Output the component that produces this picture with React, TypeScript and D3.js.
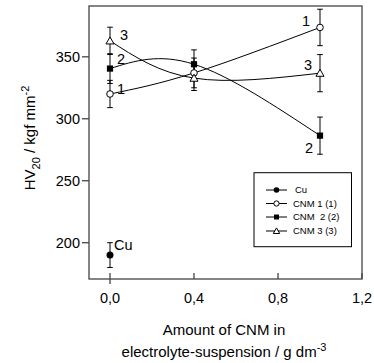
import React from "react";
import * as d3 from "d3";

// amount of CNM in suspension, g dm-3
const xValues = [0, 0.4, 1.0];
const cnm1 = [320, 337, 373.7];
const cnm1Err = [11, 12, 14.7];
const cnm2 = [340.5, 344, 286.4];
const cnm2Err = [12, 11.6, 15];
const cnm3 = [362.9, 332.8, 336.8];
const cnm3Err = [11, 10, 15];
const cuX = 0;
const cuValue = 190;
const cuErr = 10;

const xTicks = [0, 0.4, 0.8, 1.2];
const yTicks = [200, 250, 300, 350];
const legendLabels = ["Cu", "CNM 1 (1)", "CNM  2 (2)", "CNM 3 (3)"];

const W = 374;
const H = 363;
const left = 89;
const right = 362;
const top = 6;
const bottom = 279;

function Marker({ kind, x, y, s = 1 }: { kind: string; x: number; y: number; s?: number }) {
  if (kind === "dot") return <circle cx={x} cy={y} r={3.5 * s} fill="#000" />;
  if (kind === "circle")
    return <circle cx={x} cy={y} r={3.3 * s} fill="#fff" stroke="#000" strokeWidth={1} />;
  if (kind === "square")
    return <rect x={x - 3.1 * s} y={y - 3.1 * s} width={6.2 * s} height={6.2 * s} fill="#000" />;
  const tri = d3.symbol(d3.symbolTriangle, 28 * s * s)();
  return (
    <path d={tri || ""} transform={`translate(${x},${y + 0.8 * s})`} fill="#fff" stroke="#000" strokeWidth={1} />
  );
}

export default function App() {
  const x = d3.scaleLinear().domain([-0.1, 1.2]).range([left, right]);
  const y = d3.scaleLinear().domain([170.7, 391]).range([bottom, top]);

  const line = d3
    .line<[number, number]>()
    .x((d) => x(d[0]))
    .y((d) => y(d[1]))
    .curve(d3.curveNatural);

  const series = [
    { vals: cnm1, err: cnm1Err, kind: "circle", label: "1" },
    { vals: cnm2, err: cnm2Err, kind: "square", label: "2" },
    { vals: cnm3, err: cnm3Err, kind: "triangle", label: "3" },
  ];

  // label offsets (start, end) relative to the marker
  const startOff = [
    [7, 0],
    [7, -5],
    [10, -1],
  ];
  const endOff = [
    [-18, -1],
    [-15, 17],
    [-16, -3],
  ];

  const errBar = (cx: number, v: number, e: number, key: string) => (
    <g key={key} stroke="#000" strokeWidth={1}>
      <line x1={cx} x2={cx} y1={y(v - e)} y2={y(v + e)} />
      <line x1={cx - 2.8} x2={cx + 2.8} y1={y(v - e)} y2={y(v - e)} />
      <line x1={cx - 2.8} x2={cx + 2.8} y1={y(v + e)} y2={y(v + e)} />
    </g>
  );

  const legendKinds = ["dot", "circle", "square", "triangle"];
  const legendY = [190, 203.5, 217, 231];

  return (
    <svg
      width={W}
      height={H}
      style={{ position: "absolute", left: 0, top: 0, fontFamily: "Liberation Sans, Arial, sans-serif" }}
    >
      <rect width={W} height={H} fill="#fff" />
      {/* frame */}
      <rect x={left} y={top} width={right - left} height={bottom - top} fill="none" stroke="#444" strokeWidth={1.3} />

      {yTicks.map((t) => (
        <g key={t}>
          <line x1={left - 7} x2={left} y1={y(t)} y2={y(t)} stroke="#444" strokeWidth={1.3} />
          <text x={left - 9} y={y(t)} dy="0.35em" textAnchor="end" fontSize={14.5} fill="#000">
            {t}
          </text>
        </g>
      ))}
      {xTicks.map((t) => (
        <g key={t}>
          <line x1={x(t)} x2={x(t)} y1={bottom - 6} y2={bottom + (t === 0 ? 5 : 0)} stroke="#444" strokeWidth={1.3} />
          <text x={x(t)} y={bottom + 24} textAnchor="middle" fontSize={14.5} fill="#000">
            {d3.format(".1f")(t).replace(".", ",")}
          </text>
        </g>
      ))}

      {/* curves */}
      {series.map((s, i) => (
        <path
          key={"l" + i}
          d={line(xValues.map((xv, j) => [xv, s.vals[j]] as [number, number])) || ""}
          fill="none"
          stroke="#000"
          strokeWidth={1}
        />
      ))}

      {/* error bars */}
      {series.map((s, i) => s.vals.map((v, j) => errBar(x(xValues[j]), v, s.err[j], `e${i}${j}`)))}
      {errBar(x(cuX), cuValue, cuErr, "cu")}

      {/* markers */}
      {series.map((s, i) =>
        s.vals.map((v, j) => <Marker key={`m${i}${j}`} kind={s.kind} x={x(xValues[j])} y={y(v)} />)
      )}
      <Marker kind="dot" x={x(cuX)} y={y(cuValue)} />

      {/* series labels */}
      {series.map((s, i) => (
        <g key={"t" + i} fontSize={14.5} fill="#000">
          <text x={x(xValues[0]) + startOff[i][0]} y={y(s.vals[0]) + startOff[i][1]}>
            {s.label}
          </text>
          <text
            x={x(xValues[2]) + endOff[i][0]}
            y={y(s.vals[2]) + endOff[i][1]}
          >
            {s.label}
          </text>
        </g>
      ))}
      <text x={x(cuX) + 4} y={y(cuValue) - 5} fontSize={14.5} fill="#000">
        Cu
      </text>

      {/* legend */}
      <rect x={254} y={172.7} width={97.5} height={74} fill="#fff" stroke="#000" strokeWidth={1} />
      {legendLabels.map((l, i) => (
        <g key={l}>
          <line x1={266} x2={287} y1={legendY[i]} y2={legendY[i]} stroke="#000" strokeWidth={1} />
          <Marker kind={legendKinds[i]} x={276.5} y={legendY[i]} s={0.8} />
          <text
            x={i === 0 ? 295 : 293}
            y={legendY[i]}
            dy="0.35em"
            fontSize={9.5}
            fill="#000"
            style={{ whiteSpace: "pre" }}
          >
            {l}
          </text>
        </g>
      ))}

      {/* axis titles */}
      <text x={224} y={335} textAnchor="middle" fontSize={15} fill="#000">
        Amount of CNM in
      </text>
      <text x={224} y={357} textAnchor="middle" fontSize={15} fill="#000">
        electrolyte-suspension / g dm
        <tspan dy={-6} fontSize={11}>-3</tspan>
      </text>
      <text transform="translate(35,138) rotate(-90)" textAnchor="middle" fontSize={15} fill="#000">
        HV
        <tspan dy={5} fontSize={11}>20</tspan>
        <tspan dy={-5}> / kgf mm</tspan>
        <tspan dy={-6} fontSize={11}>-2</tspan>
      </text>
    </svg>
  );
}
